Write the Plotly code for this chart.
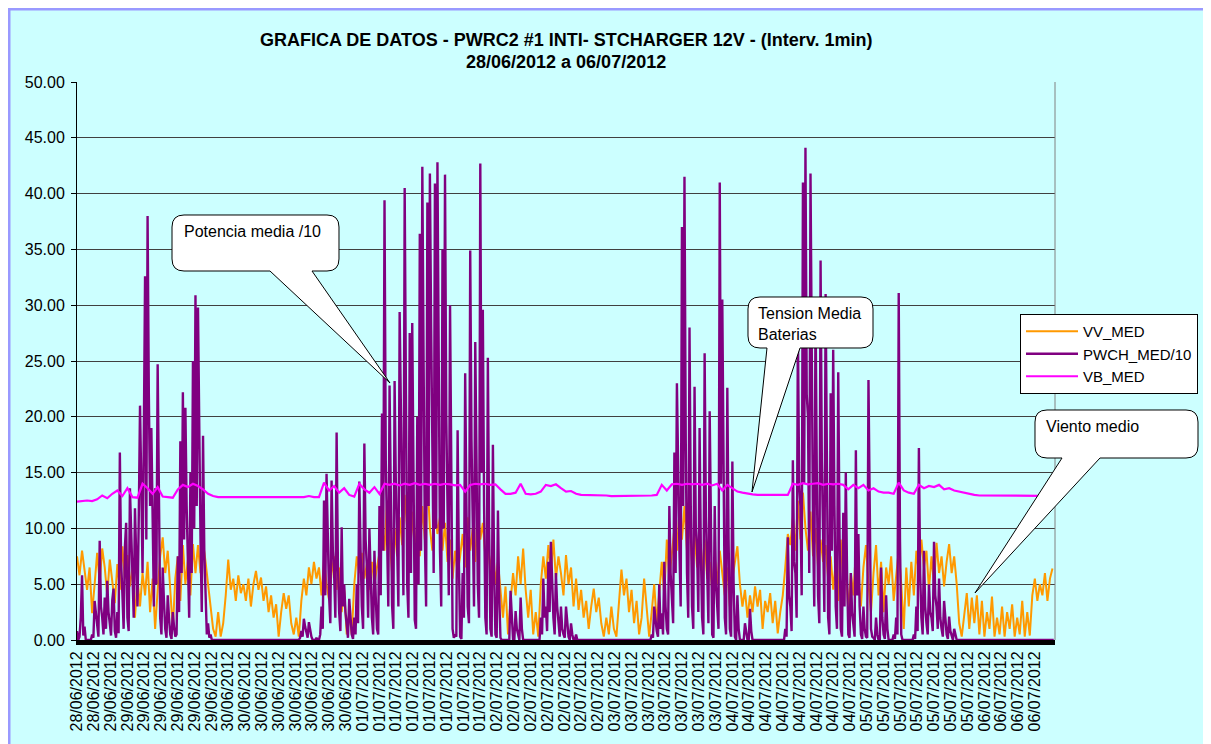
import plotly.graph_objects as go

# ---------------- data ----------------
# Sampling grid: minutes since first record
STEP_MIN = 30        # VV_MED and PWCH_MED/10 samples
VB_STEP_MIN = 60     # VB_MED samples
X_END = 11640        # last minute shown on the category axis
LABEL_EVERY = 200    # a date label every 200 records

tick_labels = (["28/06/2012"] * 2 + ["29/06/2012"] * 7 + ["30/06/2012"] * 8 +
               ["01/07/2012"] * 8 + ["02/07/2012"] * 7 + ["03/07/2012"] * 7 +
               ["04/07/2012"] * 8 + ["05/07/2012"] * 7 + ["06/07/2012"] * 4)

# PWCH_MED/10 (purple), one list per 24 h block, read on the half hour
pwch_b0 = [0.8, 0.3, 5.8, 1.2, 0, 0, 0.5, 3.5, 1.0, 8.9, 2.0, 3.8, 5.3, 1.5, 3.6, 0.8,
           2.5, 16.8, 4.2, 8.3, 2.0, 13.6, 5.0, 11.8, 3.0, 21.0, 6.0, 32.6, 38.0, 12.0,
           9.4, 13.6, 24.7, 2.0, 6.5, 1.0, 4.0, 0.5, 2.5, 0.3, 7.5, 17.8, 22.2, 20.8, 8.0,
           15.0, 25.0, 30.9]
pwch_b1 = [29.8, 9.0, 18.3, 4.0, 1.5, 0.5, 0, 0, 0, 0, 0, 0, 0, 0, 0, 0, 0, 0, 0, 0,
           0, 0, 0, 0, 0, 0, 0, 0, 0, 0, 0, 0, 0, 0, 0, 0, 0, 0, 0, 0, 0, 0.8, 1.9, 0.6,
           1.6, 0.3, 0, 0.2]
pwch_b2 = [0, 3.0, 12.5, 14.9, 4.0, 14.3, 6.0, 18.6, 2.5, 10.1, 5.0, 1.0, 3.7, 0.5, 2.0,
           5.0, 14.2, 3.0, 17.6, 6.5, 10.0, 2.0, 8.0, 1.0, 12.0, 20.3, 39.4, 10.0, 22.8,
           3.1, 23.2, 8.0, 29.4, 12.0, 40.5, 5.0, 27.5, 28.4, 1.8, 20.0, 36.4, 42.4, 9.0,
           39.2, 41.8, 14.0, 40.9, 42.8]
pwch_b3 = [8.0, 35.0, 41.7, 12.0, 30.0, 1.0, 0.5, 18.8, 0.3, 6.0, 23.9, 3.0, 34.9, 10.0,
           26.7, 5.0, 42.7, 29.6, 2.0, 25.3, 1.0, 17.5, 0.5, 11.6, 0.2, 0, 0, 0, 4.4, 0,
           2.6, 0.5, 3.8, 0, 0, 0, 0, 0, 0, 0, 2.0, 5.5, 3.0, 7.0, 8.8, 2.0, 6.0, 1.5]
pwch_b4 = [3.0, 0.5, 3.0, 0.3, 1.5, 0, 0.5, 0, 0, 0, 0, 0, 0, 0, 0, 0, 0, 0, 0, 0, 0, 0,
           0, 0, 0, 0, 0, 0, 0, 0, 0, 0, 0, 0, 0, 0, 0.5, 3.0, 0.8, 5.0, 2.4, 7.0, 1.0,
           12.0, 4.0, 16.8, 23.0, 8.0]
pwch_b5 = [37.0, 41.5, 6.0, 28.0, 3.0, 22.7, 8.0, 19.0, 2.0, 25.7, 5.0, 20.5, 0.5, 12.0,
           3.0, 41.0, 30.5, 2.0, 22.6, 1.0, 16.0, 0.3, 4.0, 0, 0, 1.5, 0, 2.8, 0, 0, 0, 0,
           0, 0, 0, 0, 0, 0, 0, 0, 0, 1.0, 9.2, 3.0, 16.1, 6.0, 28.0, 12.0]
pwch_b6 = [41.0, 44.1, 20.0, 41.8, 10.0, 30.0, 4.0, 34.0, 8.0, 31.0, 2.0, 22.1, 26.0,
           3.0, 24.0, 1.0, 11.4, 15.0, 0.5, 6.0, 1.0, 17.0, 9.5, 0.5, 3.0, 0.3, 23.3, 1.0,
           0.2, 2.0, 0, 6.5, 0.5, 4.0, 0, 0, 0.5, 2.0, 31.1, 0.5, 0, 0, 0, 0, 0.5, 3.0,
           17.2, 2.0]
pwch_b7 = [8.0, 1.5, 5.0, 2.0, 8.8, 3.0, 5.5, 1.0, 3.5, 0.5, 2.1, 0.3, 1.0, 0, 0, 0, 0,
           0, 0, 0, 0, 0, 0, 0, 0, 0, 0, 0, 0, 0, 0, 0, 0, 0, 0, 0, 0, 0, 0, 0, 0, 0, 0,
           0, 0, 0, 0, 0]
pwch_b8 = [0, 0, 0, 0]

# PWCH_MED/10 read a quarter hour later (between the half-hour readings)
pwch_m0 = [0, 2.0, 0.4, 0, 0, 0, 0.2, 2.2, 0.3, 3.0, 0.5, 1.0, 2.5, 0.4, 4.6, 0.2, 0.6,
           7.0, 1.0, 10.5, 0.8, 9.0, 2.0, 6.5, 11.0, 14.0, 18.0, 9.0, 22.0, 19.0, 3.0,
           5.0, 12.0, 0.5, 3.5, 0.2, 2.0, 0.1, 1.2, 0.5, 2.5, 6.0, 9.0, 12.0, 2.0, 6.0,
           10.0, 12.0]
pwch_m1 = [16.0, 2.5, 8.0, 0.5, 0.2, 0, 0, 0, 0, 0, 0, 0, 0, 0, 0, 0, 0, 0, 0, 0, 0, 0,
           0, 0, 0, 0, 0, 0, 0, 0, 0, 0, 0, 0, 0, 0, 0, 0, 0, 0, 0.2, 0.3, 1.2, 0.2, 0.8,
           0, 0, 0]
pwch_m2 = [0.5, 1.0, 4.0, 9.0, 1.5, 8.0, 2.0, 7.0, 0.8, 3.0, 2.5, 0.2, 1.5, 0.1, 0.5,
           1.5, 8.0, 1.0, 9.0, 2.0, 6.0, 0.5, 4.0, 0.5, 4.0, 8.0, 16.0, 3.0, 12.0, 1.0,
           14.0, 3.0, 18.0, 4.0, 22.0, 2.0, 6.0, 15.0, 1.0, 5.0, 8.0, 25.0, 3.0, 12.0,
           28.0, 6.0, 10.0, 24.0]
pwch_m3 = [3.0, 10.0, 20.0, 4.0, 14.0, 0.2, 0.3, 7.0, 0.1, 2.0, 12.0, 1.5, 18.0, 3.0,
           14.0, 2.0, 15.0, 12.0, 0.5, 10.0, 0.3, 6.0, 0.2, 4.0, 0, 0, 0, 0, 1.5, 0, 1.0,
           0, 1.0, 0, 0, 0, 0, 0, 0, 0, 0.5, 2.0, 0.8, 2.5, 4.0, 0.5, 3.0, 0.3]
pwch_m4 = [1.0, 0.2, 1.2, 0, 0.5, 0, 0, 0, 0, 0, 0, 0, 0, 0, 0, 0, 0, 0, 0, 0, 0, 0, 0,
           0, 0, 0, 0, 0, 0, 0, 0, 0, 0, 0, 0, 0, 0.2, 1.5, 0.3, 1.0, 0.5, 3.0, 0.5, 6.0,
           1.5, 6.0, 13.0, 3.0]
pwch_m5 = [12.0, 18.0, 2.0, 12.0, 1.0, 10.0, 2.5, 8.0, 0.5, 11.0, 1.5, 7.0, 0.2, 5.0,
           1.0, 14.0, 12.0, 0.5, 9.0, 0.3, 5.0, 0, 1.0, 0, 0, 0.5, 0, 0.8, 0, 0, 0, 0, 0,
           0, 0, 0, 0, 0, 0, 0, 0, 0.3, 4.0, 0.8, 7.0, 2.0, 14.0, 4.0]
pwch_m6 = [14.0, 22.0, 6.0, 20.0, 3.0, 15.0, 1.5, 16.0, 2.5, 14.0, 0.5, 8.0, 12.0, 1.0,
           10.0, 0.3, 3.0, 6.0, 0.2, 2.5, 0.3, 4.0, 3.0, 0.1, 1.0, 0.2, 8.0, 0.3, 0, 0.5,
           0, 2.0, 0.1, 1.0, 0, 0, 0.1, 0.5, 9.0, 0, 0, 0, 0, 0, 0.1, 0.8, 6.0, 0.5]
pwch_m7 = [3.0, 0.5, 2.5, 0.8, 4.0, 1.0, 2.0, 0.3, 1.5, 0.1, 0.8, 0, 0.3, 0, 0, 0, 0, 0,
           0, 0, 0, 0, 0, 0, 0, 0, 0, 0, 0, 0, 0, 0, 0, 0, 0, 0, 0, 0, 0, 0, 0, 0, 0, 0,
           0, 0, 0, 0]
pwch_m8 = [0, 0, 0, 0]

# VV_MED (orange)
vv_b0 = [7.5, 5.8, 8.0, 6.0, 4.5, 6.5, 2.4, 5.0, 7.8, 5.2, 8.2, 6.5, 4.0, 7.2, 5.0, 3.3,
         6.8, 4.5, 8.4, 5.5, 7.6, 4.8, 6.5, 2.0, 5.5, 3.0, 6.0, 4.0, 7.0, 2.5, 5.5, 1.0,
         4.5, 7.5, 9.2, 6.0, 8.0, 4.0, 1.0, 5.5, 7.5, 3.5, 8.5, 5.0, 7.2, 4.0, 8.6, 6.0]
vv_b1 = [8.5, 6.0, 8.8, 7.0, 5.0, 3.0, 1.0, 0.3, 2.5, 0.3, 1.5, 4.0, 7.2, 4.5, 5.5, 3.5,
         5.8, 4.2, 5.0, 3.5, 5.5, 3.0, 5.0, 6.2, 4.5, 5.6, 3.5, 4.8, 2.5, 4.0, 2.0, 3.2,
         0.3, 2.5, 4.2, 2.8, 4.0, 1.5, 0.5, 2.0, 0.3, 3.5, 5.5, 4.0, 6.5, 5.0, 7.0, 5.5]
vv_b2 = [6.5, 4.0, 7.2, 5.0, 3.6, 6.0, 7.5, 4.5, 6.5, 2.5, 4.5, 0.5, 2.5, 0.5, 5.0, 7.5,
         6.0, 7.8, 5.5, 6.8, 4.5, 7.0, 5.0, 6.5, 7.8, 10.5, 8.0, 12.5, 9.0, 6.0, 10.0, 7.5,
         11.0, 8.5, 13.0, 9.5, 7.0, 11.5, 8.0, 10.5, 7.5, 12.0, 9.0, 14.5, 10.0, 8.0,
         12.0, 9.5]
vv_b3 = [11.0, 8.0, 10.5, 7.0, 9.0, 5.5, 8.0, 6.0, 7.5, 9.5, 6.5, 11.0, 8.0, 10.0, 7.0,
         12.0, 9.0, 10.5, 7.5, 9.0, 6.0, 8.5, 5.0, 7.0, 4.5, 2.0, 4.8, 0.5, 3.5, 6.0, 4.0,
         7.5, 5.0, 8.2, 4.5, 2.0, 4.5, 0.5, 2.5, 0.3, 5.0, 7.5, 5.5, 8.5, 6.0, 9.0, 5.5,
         7.5]
vv_b4 = [6.0, 4.0, 7.6, 5.0, 6.5, 3.0, 5.5, 2.7, 4.5, 2.0, 3.5, 1.0, 3.0, 4.6, 2.5, 3.8,
         1.5, 0.3, 2.0, 0.5, 3.0, 1.0, 0.3, 3.5, 6.3, 4.0, 5.5, 2.5, 4.5, 1.5, 3.5, 0.5,
         2.0, 5.5, 3.0, 0.3, 2.5, 5.0, 1.5, 4.5, 7.0, 4.0, 9.0, 5.5, 7.5, 10.0, 8.0, 11.5]
vv_b5 = [9.0, 12.0, 8.0, 10.5, 7.0, 9.5, 6.5, 8.5, 6.0, 9.0, 5.5, 7.0, 4.5, 7.5, 5.0,
         8.0, 6.0, 4.0, 6.5, 3.0, 5.5, 7.0, 8.4, 5.0, 3.0, 4.5, 2.0, 4.0, 2.5, 4.8, 3.0,
         4.5, 1.0, 3.5, 2.5, 4.2, 1.5, 3.5, 0.6, 2.5, 4.0, 6.5, 9.5, 8.5, 11.0, 8.0, 12.5,
         9.0]
vv_b6 = [13.2, 10.0, 8.0, 11.5, 7.5, 10.0, 6.5, 9.0, 7.0, 8.5, 5.5, 7.5, 4.5, 7.0, 3.5,
         9.0, 5.0, 7.5, 2.4, 6.0, 4.0, 8.0, 5.5, 3.0, 6.5, 8.5, 5.0, 2.5, 6.0, 8.5, 4.0,
         7.0, 2.5, 6.5, 5.0, 7.5, 3.5, 6.0, 8.0, 5.0, 1.0, 6.5, 3.0, 7.0, 4.0, 8.0, 6.0,
         9.0]
vv_b7 = [6.5, 8.0, 4.5, 7.5, 5.0, 8.7, 6.0, 7.5, 4.8, 7.0, 8.6, 6.0, 7.5, 5.0, 1.5, 0.3,
         2.5, 4.2, 1.0, 3.8, 1.5, 4.0, 0.5, 3.5, 0.3, 2.5, 1.0, 3.9, 0.3, 2.0, 0.5, 3.0,
         0.3, 2.5, 1.0, 3.2, 0.3, 2.0, 0.5, 3.5, 0.3, 2.5, 0.4, 4.0, 5.5, 3.5, 5.0, 4.0]
vv_b8 = [6.0, 3.5, 5.5, 6.4]

# VB_MED (magenta), hourly
vb_b0 = [12.4, 12.45, 12.5, 12.45, 12.6, 12.95, 12.7, 13.1, 13.4, 12.9, 13.6, 12.8,
         12.75, 14.0, 13.6, 13.1, 13.7, 12.85, 12.8, 12.75, 13.5, 13.9, 13.7, 14.0]
vb_b1 = [13.8, 13.5, 13.1, 12.9, 12.8, 12.8, 12.8, 12.78, 12.78, 12.77, 12.77, 12.76,
         12.76, 12.75, 12.75, 12.75, 12.74, 12.74, 12.74, 12.74, 12.75, 12.8, 12.9, 12.8]
vb_b2 = [12.8, 14.1, 13.4, 13.8, 13.2, 13.6, 13.0, 12.85, 14.0, 13.5, 13.2, 13.7, 13.1,
         14.0, 13.9, 14.0, 13.85, 14.0, 13.9, 14.05, 13.9, 14.0, 13.9, 14.0]
vb_b3 = [13.9, 14.0, 13.95, 13.85, 13.9, 13.3, 13.9, 14.0, 13.95, 14.0, 13.9, 13.95,
         13.5, 13.1, 13.1, 13.2, 14.0, 13.1, 13.05, 13.1, 13.3, 13.9, 13.8, 13.95]
vb_b4 = [13.6, 13.3, 13.35, 13.1, 13.0, 13.0, 12.95, 12.95, 12.95, 12.95, 12.9, 12.9,
         12.9, 12.9, 12.9, 12.9, 12.9, 12.9, 12.95, 13.0, 13.9, 13.4, 13.95, 14.0]
vb_b5 = [13.9, 14.0, 13.95, 14.0, 13.9, 14.0, 13.85, 14.0, 13.4, 13.9, 13.6, 13.3, 13.2,
         13.1, 13.05, 13.0, 13.0, 12.95, 12.95, 12.95, 12.95, 13.0, 14.0, 13.9]
vb_b6 = [14.05, 13.95, 14.0, 14.05, 13.9, 14.0, 13.95, 14.0, 13.9, 13.5, 13.9, 13.6,
         13.9, 13.4, 13.6, 13.3, 13.2, 13.2, 13.1, 14.1, 13.4, 13.2, 13.1, 13.9]
vb_b7 = [13.6, 13.8, 13.7, 13.9, 13.5, 13.6, 13.4, 13.3, 13.15, 13.05, 13.0, 12.95,
         12.95, 12.95, 12.93, 12.93, 12.93, 12.92, 12.92, 12.92, 12.92, 12.92, 12.92,
         12.92]

pwch_half = pwch_b0 + pwch_b1 + pwch_b2 + pwch_b3 + pwch_b4 + pwch_b5 + pwch_b6 + pwch_b7 + pwch_b8
pwch_quarter = pwch_m0 + pwch_m1 + pwch_m2 + pwch_m3 + pwch_m4 + pwch_m5 + pwch_m6 + pwch_m7 + pwch_m8
vv = vv_b0 + vv_b1 + vv_b2 + vv_b3 + vv_b4 + vv_b5 + vv_b6 + vv_b7 + vv_b8
vb = vb_b0 + vb_b1 + vb_b2 + vb_b3 + vb_b4 + vb_b5 + vb_b6 + vb_b7

x_main = [i * STEP_MIN for i in range(len(vv))]
x_vb = [i * VB_STEP_MIN for i in range(len(vb))]
x_pw, y_pw = [], []
for i, (a, b) in enumerate(zip(pwch_half, pwch_quarter)):
    x_pw += [i * STEP_MIN, i * STEP_MIN + STEP_MIN // 2]
    y_pw += [a, b]

# ---------------- layout helpers ----------------
# The page body has an 8 px margin, so the figure is 8 px smaller than the window.
PAGE_OFF = 8
W, H = 1211 - PAGE_OFF, 744 - PAGE_OFF
# plot area in screenshot pixels
PX_L, PX_R, PX_T, PX_B = 77, 1055, 82, 640
FONT = "Liberation Sans, Arial, sans-serif"


def px(x, y):
    return ((x - PX_L) / (PX_R - PX_L), (PX_B - y) / (PX_B - PX_T))


def bubble(x0, y0, x1, y1, b0, b1, tx, ty, r=12):
    pts = [("M", [(x0 + r, y0)]), ("L", [(x1 - r, y0)]), ("Q", [(x1, y0), (x1, y0 + r)]),
           ("L", [(x1, y1 - r)]), ("Q", [(x1, y1), (x1 - r, y1)]), ("L", [(b1, y1)]),
           ("L", [(tx, ty)]), ("L", [(b0, y1)]), ("L", [(x0 + r, y1)]),
           ("Q", [(x0, y1), (x0, y1 - r)]), ("L", [(x0, y0 + r)]),
           ("Q", [(x0, y0), (x0 + r, y0)])]
    s = ""
    for cmd, coords in pts:
        s += cmd + " ".join("%.5f,%.5f" % px(a, b) for a, b in coords) + " "
    return dict(type="path", xref="paper", yref="paper", path=s + "Z",
                fillcolor="white", line=dict(color="black", width=1), layer="above")


fig = go.Figure()
fig.add_trace(go.Scatter(x=x_main, y=vv, mode="lines", name="VV_MED",
                         line=dict(color="#FF9900", width=2.0)))
fig.add_trace(go.Scatter(x=x_pw, y=y_pw, mode="lines", name="PWCH_MED/10",
                         line=dict(color="#800080", width=2.4)))
fig.add_trace(go.Scatter(x=x_vb, y=vb, mode="lines", name="VB_MED",
                         line=dict(color="#FF00FF", width=2.2)))

fx0, fy1 = px(9, 9)
fx1, fy0 = px(1207, 770)
shapes = [
    dict(type="rect", xref="paper", yref="paper", x0=fx0, y0=fy0, x1=fx1, y1=fy1,
         fillcolor="#CCFFFF", line=dict(color="#9999FF", width=3), layer="below"),
    dict(type="line", xref="paper", yref="paper", x0=1, x1=1, y0=0, y1=1,
         line=dict(color="#808080", width=1), layer="above"),
    bubble(172, 215, 339, 271, 270, 312, 390, 383),
    bubble(748, 297, 873, 348, 767, 800, 752, 492),
    bubble(1035, 410, 1198, 458, 1062, 1100, 975, 593),
]


def note(text, x, y, size=16, bold=False, xanchor="left", yanchor="top"):
    ax, ay = px(x, y)
    return dict(text=text, x=ax, y=ay, xref="paper", yref="paper", showarrow=False,
                xanchor=xanchor, yanchor=yanchor, align="left",
                font=dict(family=FONT, size=size, color="black",
                          weight="bold" if bold else "normal"))


annotations = [
    note("GRAFICA DE DATOS - PWRC2 #1 INTI- STCHARGER 12V - (Interv. 1min)", 566, 40,
         size=18, bold=True, xanchor="center", yanchor="middle"),
    note("28/06/2012 a 06/07/2012", 566, 62, size=18, bold=True, xanchor="center",
         yanchor="middle"),
    note("Potencia media /10", 182, 221),
    note("Tension Media<br>Baterias", 756, 303),
    note("Viento medio", 1044, 416),
]

lx, ly = px(1020, 314)
fig.update_layout(
    width=W, height=H,
    margin=dict(l=PX_L - PAGE_OFF, r=W - (PX_R - PAGE_OFF), t=PX_T - PAGE_OFF,
                b=H - (PX_B - PAGE_OFF), pad=0, autoexpand=False),
    paper_bgcolor="white", plot_bgcolor="#CCFFFF",
    font=dict(family=FONT, size=16, color="black"),
    showlegend=True,
    legend=dict(x=lx, y=ly, xanchor="left", yanchor="top", bgcolor="white",
                bordercolor="black", borderwidth=1, font=dict(size=15, family=FONT),
                tracegroupgap=0, itemwidth=52),
    shapes=shapes, annotations=annotations,
    xaxis=dict(range=[0, X_END], tickmode="array",
               tickvals=[i * LABEL_EVERY for i in range(len(tick_labels))],
               ticktext=tick_labels, tickangle=-90, showgrid=False, zeroline=False,
               showline=True, linecolor="black", linewidth=5, ticks="",
               automargin=False, tickfont=dict(size=16, family=FONT)),
    yaxis=dict(range=[0, 50], tick0=0, dtick=5, tickformat=".2f", showgrid=True,
               gridcolor="#404040", gridwidth=1, zeroline=False, showline=True,
               linecolor="black", linewidth=1, ticks="outside", ticklen=5,
               tickcolor="black", automargin=False, ticklabelstandoff=3,
               tickfont=dict(size=16, family=FONT)),
)

fig.write_html("out.html")
